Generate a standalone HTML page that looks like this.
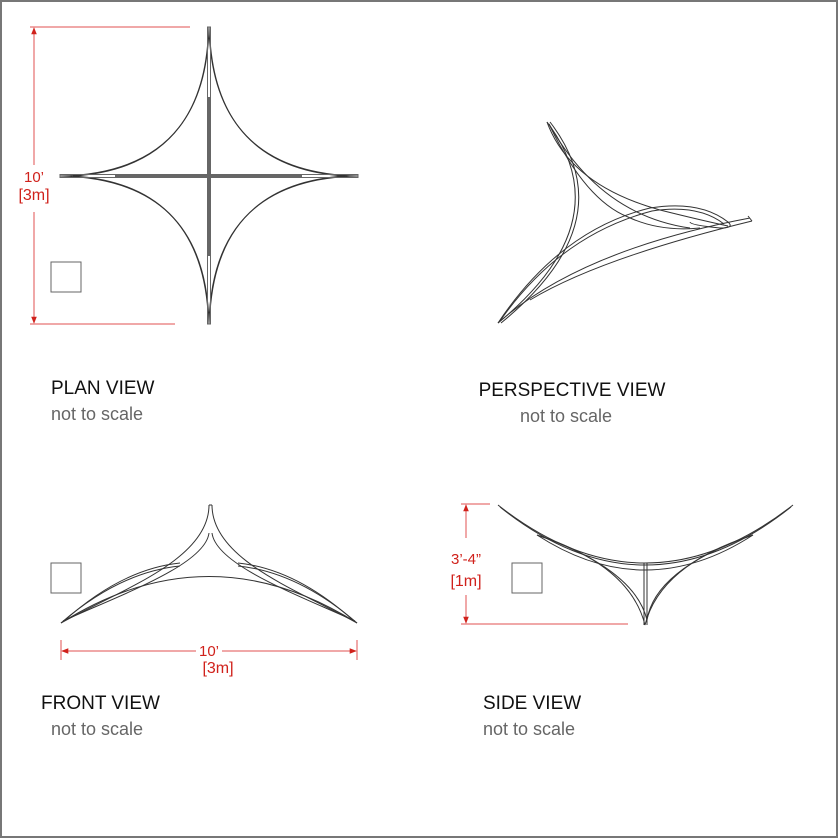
<!DOCTYPE html>
<html><head><meta charset="utf-8"><style>
html,body{margin:0;padding:0;background:#fff}
svg{display:block}
text{font-family:"Liberation Sans",sans-serif}
</style></head><body>
<svg width="838" height="838" viewBox="0 0 838 838" xmlns="http://www.w3.org/2000/svg">
<rect x="1" y="1" width="836" height="836" fill="#fff" stroke="#777" stroke-width="2"/>
<defs>
<marker id="ar" viewBox="0 0 10 10" refX="9" refY="5" markerWidth="7" markerHeight="7" orient="auto-start-reverse"><path d="M0,1 L10,5 L0,9 z" fill="#d0211b"/></marker>
</defs>
<g fill="none" stroke="#333" stroke-width="1">
<!-- PLAN -->
<path d="M209,27 Q212,173 358,176 Q212,179 209,324 Q206,179 60,176 Q206,173 209,27"/>
<path d="M210,40 Q219,168 345,176 M345,176 Q219,184 210,312 M208,312 Q199,184 73,176 M73,176 Q199,168 208,40"/>
<path d="M207.5,27 L210.5,27 L210.5,324 L207.5,324 Z" stroke="#666"/>
<path d="M60,174.5 L358,174.5 L358,177.5 L60,177.5 Z" stroke="#666"/>
</g>
<line x1="209" y1="97" x2="209" y2="256" stroke="#666" stroke-width="2"/>
<line x1="115" y1="176" x2="302" y2="176" stroke="#666" stroke-width="2"/>
<rect x="51" y="262" width="30" height="30" fill="none" stroke="#666"/>
<g stroke="#e05050" stroke-width="1" fill="none">
<line x1="30" y1="27" x2="190" y2="27"/>
<line x1="30" y1="324" x2="175" y2="324"/>
<line x1="34" y1="28" x2="34" y2="165" marker-start="url(#ar)"/>
<line x1="34" y1="212" x2="34" y2="323" marker-end="url(#ar)"/>
</g>
<text x="34" y="182" fill="#d0211b" font-size="15" text-anchor="middle">10’</text>
<text x="34" y="200" fill="#d0211b" font-size="16" text-anchor="middle">[3m]</text>
<!-- PERSPECTIVE -->
<g fill="none" stroke="#333" stroke-width="1">
<path d="M547,122 Q622,221 498,323"/>
<path d="M550,122 Q626,221 501,323"/>
<path d="M547,122 Q570,185 660,210 Q700,220 728,226"/>
<path d="M549,124 Q585,200 628,217 Q660,232 700,228"/>
<path d="M549,124 Q600,215 690,228"/>
<path d="M498,323 Q560,230 650,208 Q700,200 728,222 Q735,228 720,228 Q690,225 690,222"/>
<path d="M500,321 Q560,235 652,211 Q698,204 724,224"/>
<path d="M498,323 Q580,250 750,218"/>
<path d="M530,300 Q600,258 752,221"/>
<path d="M748,216 L752,221"/>
</g>
<!-- FRONT -->
<g fill="none" stroke="#333" stroke-width="1">
<path d="M61,623 Q120,572 180,566"/>
<path d="M64,621 Q122,569 180,563"/>
<path d="M357,623 Q298,572 238,566"/>
<path d="M354,621 Q296,569 238,563"/>
<path d="M61,623 Q209,530 357,623"/>
<path d="M209,505 C209,560 120,590 61,623"/>
<path d="M209,533 C205,565 120,595 63,621"/>
<path d="M212,505 C212,560 298,590 357,623"/>
<path d="M212,533 C216,565 298,595 355,621"/>
<path d="M209,505 L212,505"/>
</g>
<rect x="51" y="563" width="30" height="30" fill="none" stroke="#666"/>
<g stroke="#e05050" stroke-width="1" fill="none">
<line x1="61" y1="640" x2="61" y2="660"/>
<line x1="357" y1="640" x2="357" y2="660"/>
<line x1="62" y1="651" x2="196" y2="651" marker-start="url(#ar)"/>
<line x1="222" y1="651" x2="356" y2="651" marker-end="url(#ar)"/>
</g>
<text x="209" y="656" fill="#d0211b" font-size="15" text-anchor="middle">10’</text>
<text x="218" y="673" fill="#d0211b" font-size="16" text-anchor="middle">[3m]</text>
<!-- SIDE -->
<g fill="none" stroke="#333" stroke-width="1">
<path d="M498,505 Q645,621 793,505"/>
<path d="M500,507 Q645,623 791,507"/>
<path d="M537,535 Q645,605 753,535"/>
<path d="M537,535 Q630,565 645,625 Q660,565 753,535"/>
<path d="M540,536 Q635,570 647,620 Q655,570 750,536"/>
<path d="M644,563 L644,625 M647,563 L647,625"/>
</g>
<rect x="512" y="563" width="30" height="30" fill="none" stroke="#666"/>
<g stroke="#e05050" stroke-width="1" fill="none">
<line x1="461" y1="504" x2="490" y2="504"/>
<line x1="461" y1="624" x2="628" y2="624"/>
<line x1="466" y1="505" x2="466" y2="538" marker-start="url(#ar)"/>
<line x1="466" y1="595" x2="466" y2="623" marker-end="url(#ar)"/>
</g>
<text x="466" y="564" fill="#d0211b" font-size="15" text-anchor="middle">3’-4”</text>
<text x="466" y="586" fill="#d0211b" font-size="16" text-anchor="middle">[1m]</text>
<g font-size="19" fill="#111">
<text x="51" y="394">PLAN VIEW</text>
<text x="572" y="396" text-anchor="middle">PERSPECTIVE VIEW</text>
<text x="41" y="709">FRONT VIEW</text>
<text x="483" y="709">SIDE VIEW</text>
</g>
<g font-size="18" fill="#666">
<text x="51" y="420">not to scale</text>
<text x="520" y="422">not to scale</text>
<text x="51" y="735">not to scale</text>
<text x="483" y="735">not to scale</text>
</g>
</svg>
</body></html>
